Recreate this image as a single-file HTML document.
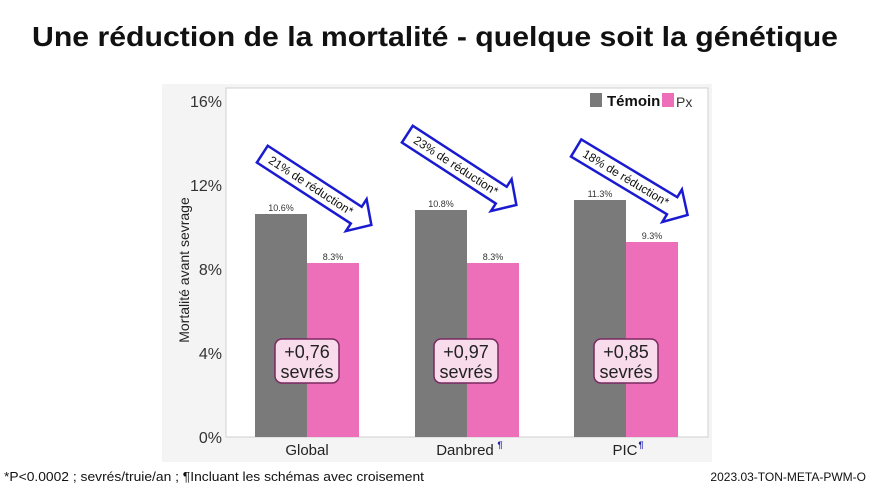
<!DOCTYPE html>
<html><head><meta charset="utf-8"><style>
html,body{margin:0;padding:0;background:#fff;}
svg{display:block;font-family:"Liberation Sans",sans-serif;}
</style></head><body>
<svg width="870" height="489" viewBox="0 0 870 489">
<rect width="870" height="489" fill="#fff"/>
<text x="435" y="46" font-size="28" text-anchor="middle" fill="#111" font-weight="bold" textLength="806" lengthAdjust="spacingAndGlyphs">Une réduction de la mortalité - quelque soit la génétique</text>
<rect x="162" y="84" width="550" height="378" fill="#f4f4f4"/>
<rect x="226" y="88" width="482" height="349" fill="#fff" stroke="#d0d0d0"/>
<g font-size="16" fill="#333" text-anchor="end">
<text x="222" y="107">16%</text><text x="222" y="191">12%</text><text x="222" y="275">8%</text><text x="222" y="359">4%</text><text x="222" y="443">0%</text>
</g>
<text transform="translate(189,270) rotate(-90)" font-size="14" fill="#222" text-anchor="middle">Mortalité avant sevrage</text>
<g fill="#7a7a7a">
<rect x="255" y="214" width="52" height="223"/>
<rect x="415" y="210" width="52" height="227"/>
<rect x="574" y="200" width="52" height="237"/>
</g>
<g fill="#ee6fb9">
<rect x="307" y="263" width="52" height="174"/>
<rect x="467" y="263" width="52" height="174"/>
<rect x="626" y="242" width="52" height="195"/>
</g>
<g font-size="9" fill="#333" text-anchor="middle">
<text x="281" y="211">10.6%</text><text x="333" y="260">8.3%</text>
<text x="441" y="207">10.8%</text><text x="493" y="260">8.3%</text>
<text x="600" y="197">11.3%</text><text x="652" y="239">9.3%</text>
</g>
<g font-size="15" fill="#222" text-anchor="middle">
<text x="307" y="455">Global</text>
<text x="465" y="455">Danbred</text><text x="500" y="448" font-size="9" fill="#22a" font-weight="bold">¶</text>
<text x="625" y="455">PIC</text><text x="641" y="448" font-size="9" fill="#22a" font-weight="bold">¶</text>
</g>
<rect x="590" y="93" width="12" height="14" fill="#7a7a7a"/>
<text x="607" y="106" font-size="15" fill="#111" font-weight="bold">Témoin</text>
<rect x="662" y="93" width="12" height="14" fill="#ee6fb9"/>
<text x="676" y="107" font-size="14" fill="#333">Px</text>
<g font-size="18" fill="#222" text-anchor="middle">
<rect x="275" y="339" width="64" height="44" rx="7" fill="#f8dcec" stroke="#7a2860" stroke-width="1.5"/>
<text x="307" y="358">+0,76</text><text x="307" y="378">sevrés</text>
<rect x="434" y="339" width="64" height="44" rx="7" fill="#f8dcec" stroke="#7a2860" stroke-width="1.5"/>
<text x="466" y="358">+0,97</text><text x="466" y="378">sevrés</text>
<rect x="594" y="339" width="64" height="44" rx="7" fill="#f8dcec" stroke="#7a2860" stroke-width="1.5"/>
<text x="626" y="358">+0,85</text><text x="626" y="378">sevrés</text>
</g>
<g font-size="12" fill="#111">
<g transform="translate(316,189) rotate(33)">
<polygon points="-64,-10 48,-10 48,-19 66,0 48,19 48,10 -64,10" fill="#fff" stroke="#1a1ad0" stroke-width="2.5"/>
<text x="-6" y="4" text-anchor="middle">21% de réduction*</text></g>
<g transform="translate(461,169) rotate(33)">
<polygon points="-64,-10 48,-10 48,-19 66,0 48,19 48,10 -64,10" fill="#fff" stroke="#1a1ad0" stroke-width="2.5"/>
<text x="-6" y="4" text-anchor="middle">23% de réduction*</text></g>
<g transform="translate(631,181) rotate(31)">
<polygon points="-64,-10 48,-10 48,-19 66,0 48,19 48,10 -64,10" fill="#fff" stroke="#1a1ad0" stroke-width="2.5"/>
<text x="-6" y="4" text-anchor="middle">18% de  réduction*</text></g>
</g>
<text x="4" y="481" font-size="13" fill="#111" textLength="420" lengthAdjust="spacingAndGlyphs">*P&lt;0.0002 ; sevrés/truie/an ; ¶Incluant les schémas avec croisement</text>
<text x="866" y="481" font-size="12" fill="#111" text-anchor="end">2023.03-TON-META-PWM-O</text>
</svg>
</body></html>
